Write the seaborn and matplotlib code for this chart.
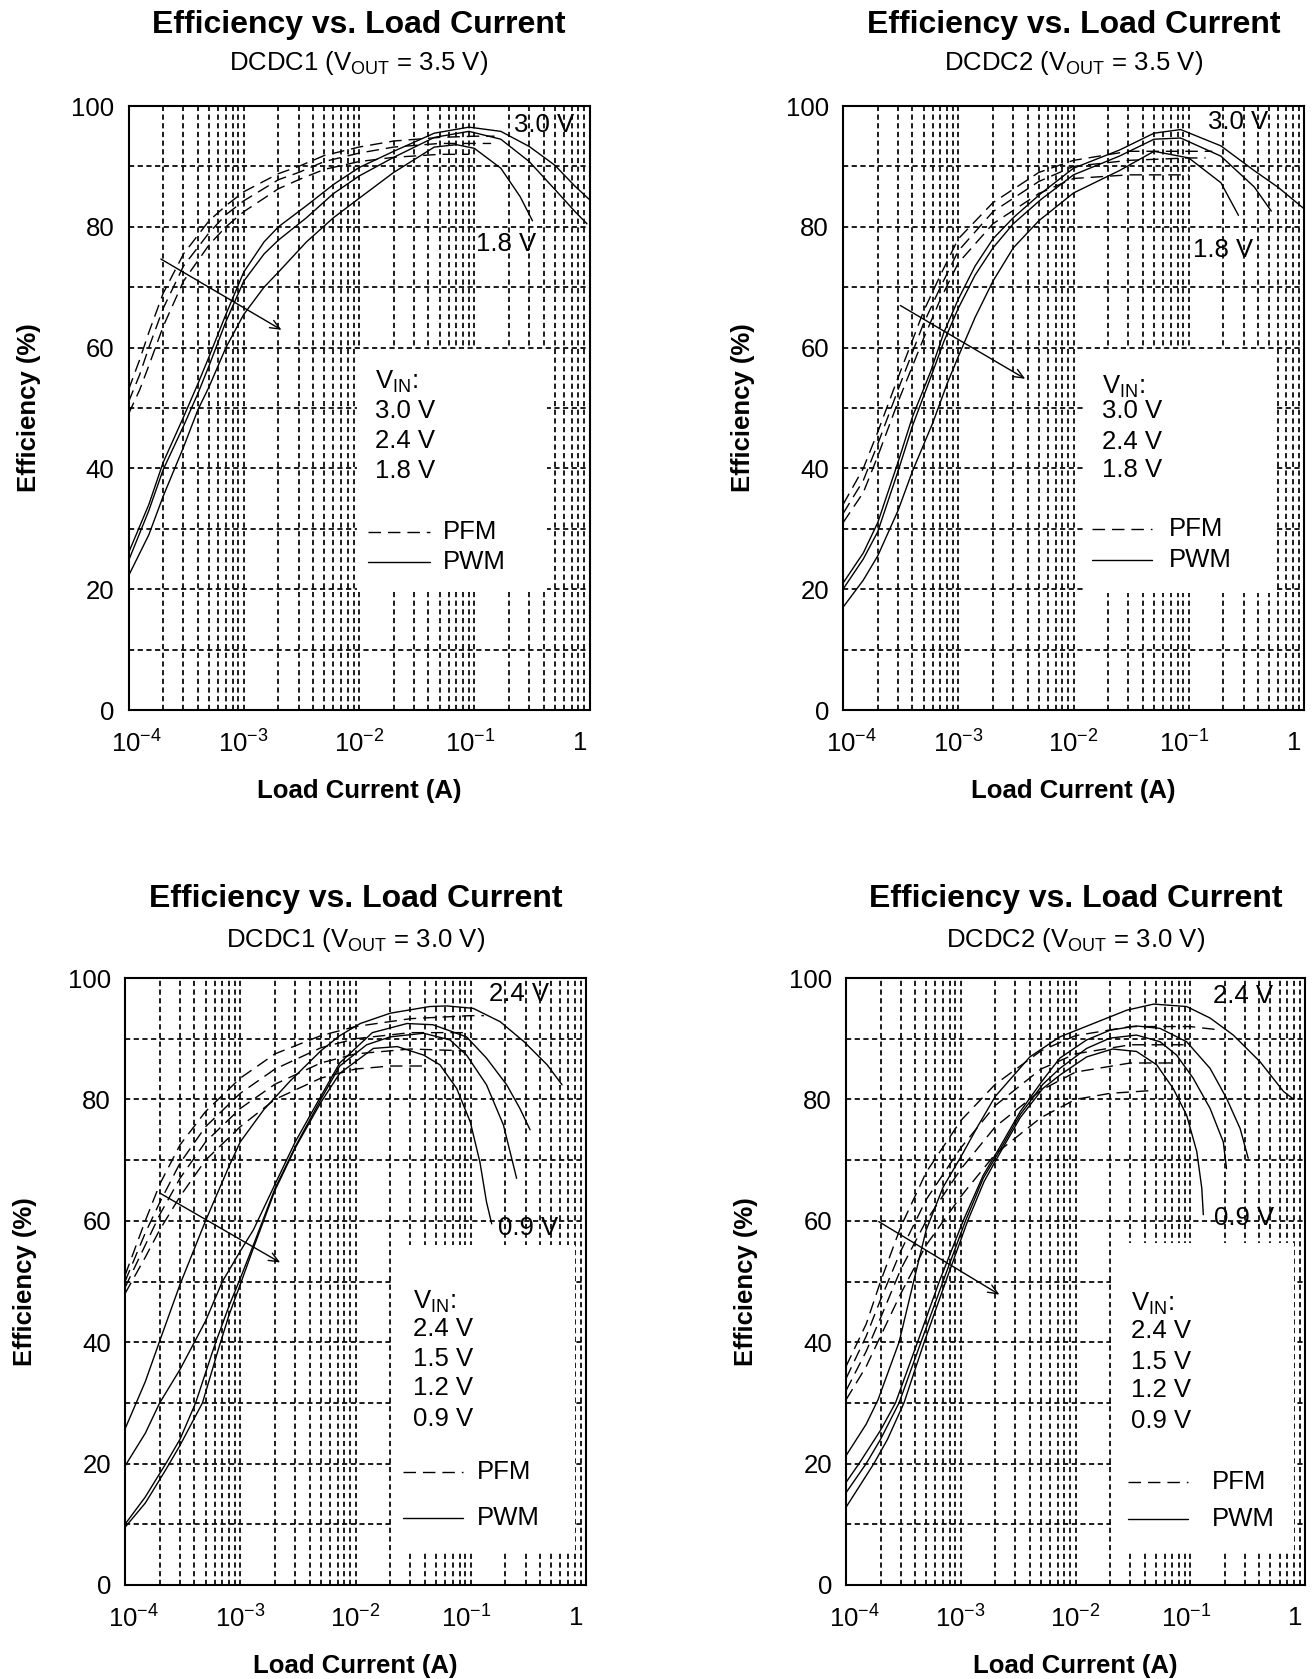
#!/usr/bin/env python
# encoding: utf-8
"""
Efficiency vs load current, DCDC1 / DCDC2 at two output voltages
"""

import numpy as np
import pandas as pd
import matplotlib
matplotlib.use("Agg")
import matplotlib.pyplot as plt
import matplotlib.transforms as mtransforms
from matplotlib.ticker import FixedLocator, LogLocator, MultipleLocator, NullFormatter
import seaborn as sns

sns.set_style("white")
plt.rcParams['font.family'] = ['Liberation Sans', 'DejaVu Sans']
plt.rcParams['mathtext.fontset'] = 'custom'
plt.rcParams['mathtext.rm'] = 'Liberation Sans'
plt.rcParams['mathtext.it'] = 'Liberation Sans:italic'
plt.rcParams['mathtext.bf'] = 'Liberation Sans:bold'
plt.rcParams['text.color'] = 'black'
plt.rcParams['axes.labelcolor'] = 'black'

# ---- data: (load current A, efficiency %) ----

# DCDC1, VOUT = 3.5 V
P1_PWM_30 = [(1e-4, 26), (1.5e-4, 34), (2e-4, 41), (3e-4, 48.5), (4e-4, 54), (5e-4, 58.5),
             (7e-4, 65.5), (1e-3, 72.5), (1.5e-3, 77.5), (2e-3, 80), (3.5e-3, 83.5), (6e-3, 87),
             (1e-2, 89.8), (2e-2, 92.5), (4.5e-2, 95.5), (9e-2, 96.5), (0.17, 95.8), (0.3, 93.3),
             (0.5, 90.2), (0.75, 86.7), (1.0, 84.5)]
P1_PWM_24 = [(1e-4, 24.7), (1.5e-4, 33), (2e-4, 39.8), (3e-4, 47), (4e-4, 52.4), (5e-4, 57),
             (7e-4, 64.3), (1e-3, 71), (1.5e-3, 75.5), (2e-3, 77.8), (3.5e-3, 81.5), (6e-3, 85.5),
             (1e-2, 88.4), (2e-2, 91.5), (4.5e-2, 94.8), (9e-2, 95.8), (0.17, 94.5), (0.3, 90.8),
             (0.5, 86.2), (0.75, 82.5), (0.95, 80.5)]
P1_PWM_18 = [(1e-4, 22.2), (1.5e-4, 29), (2e-4, 35.4), (3e-4, 43.5), (4e-4, 49.7), (5e-4, 53.5),
             (7e-4, 60), (1e-3, 65.5), (1.5e-3, 70), (2e-3, 72.5), (3.5e-3, 77.5), (6e-3, 81.5),
             (1e-2, 84.7), (2e-2, 89), (4.5e-2, 93.2), (7e-2, 93.6), (0.1, 93), (0.17, 89.7),
             (0.25, 85), (0.32, 81)]
P1_PFM_30 = [(1e-4, 53), (1.25e-4, 58), (1.5e-4, 62.5), (2e-4, 69), (3e-4, 75.5), (5e-4, 81),
             (7e-4, 83.5), (1e-3, 85.8), (2e-3, 88.8), (3e-3, 90), (5e-3, 91.8), (1e-2, 93.2),
             (2e-2, 94.2), (5e-2, 94.8), (0.1, 95), (0.15, 95)]
P1_PFM_24 = [(1e-4, 51), (1.25e-4, 55.5), (1.5e-4, 60), (2e-4, 66.5), (3e-4, 73.5), (5e-4, 79),
             (7e-4, 82), (1e-3, 84.3), (2e-3, 87.8), (3e-3, 89), (5e-3, 90.8), (1e-2, 92.2),
             (2e-2, 93.2), (5e-2, 93.8), (0.1, 93.8), (0.14, 93.8)]
P1_PFM_18 = [(1e-4, 49), (1.25e-4, 53), (1.5e-4, 57), (2e-4, 63.5), (3e-4, 71), (5e-4, 77),
             (7e-4, 80), (1e-3, 82.5), (2e-3, 86.3), (3e-3, 87.8), (5e-3, 89.5), (1e-2, 90.8),
             (2e-2, 91.5), (5e-2, 92), (0.09, 92)]

# DCDC2, VOUT = 3.5 V
P2_PWM_30 = [(1e-4, 21), (1.5e-4, 26), (2e-4, 31), (3e-4, 41), (4e-4, 48.5), (5.75e-4, 56),
             (7.5e-4, 62.5), (1e-3, 68), (1.4e-3, 73.5), (2e-3, 78), (3e-3, 81.5), (5.2e-3, 85.5),
             (1e-2, 89.7), (2.5e-2, 92.7), (5e-2, 95.5), (8.5e-2, 96.1), (0.19, 93.4),
             (0.37, 89.3), (0.6, 86.5), (1.0, 83)]
P2_PWM_24 = [(1e-4, 20), (1.5e-4, 25), (2e-4, 29.5), (3e-4, 39.5), (4e-4, 47), (5.75e-4, 55),
             (7.5e-4, 61), (1e-3, 66.5), (1.4e-3, 72), (2e-3, 76.5), (3e-3, 80.5), (5.2e-3, 84.5),
             (1e-2, 88.6), (2.5e-2, 91.7), (5e-2, 94.5), (8.5e-2, 94.7), (0.19, 91.7),
             (0.37, 86.6), (0.52, 82.6)]
P2_PWM_18 = [(1e-4, 17), (1.5e-4, 21.5), (2e-4, 25.5), (3e-4, 33), (4e-4, 39.5), (6e-4, 47.5),
             (8e-4, 54), (1e-3, 58.5), (1.4e-3, 65), (2e-3, 71), (3e-3, 76.5), (5e-3, 81),
             (1e-2, 85.6), (2.5e-2, 89.3), (5e-2, 92.5), (0.1, 91.4), (0.19, 87.3), (0.27, 81.9)]
P2_PFM_30 = [(1e-4, 34), (1.5e-4, 40), (2e-4, 46), (3e-4, 55), (5e-4, 66), (7e-4, 72),
             (1e-3, 78), (2e-3, 84), (5e-3, 89), (1e-2, 91), (3e-2, 92.5), (0.1, 92.5), (0.16, 92.5)]
P2_PFM_24 = [(1e-4, 32.5), (1.5e-4, 38), (2e-4, 44), (3e-4, 53), (5e-4, 64), (7e-4, 70),
             (1e-3, 76), (2e-3, 82.5), (5e-3, 87.5), (1e-2, 90), (3e-2, 91), (0.1, 91.4), (0.14, 91.4)]
P2_PFM_18 = [(1e-4, 31), (1.5e-4, 36), (2e-4, 42), (3e-4, 51), (5e-4, 61.5), (7e-4, 68),
             (1e-3, 74), (2e-3, 80.5), (5e-3, 85.5), (1e-2, 88), (3e-2, 88.6), (0.1, 88.6)]

# DCDC1, VOUT = 3.0 V
P3_PWM_24 = [(1e-4, 25.7), (1.5e-4, 33.5), (2e-4, 40.2), (3e-4, 49.5), (5e-4, 60), (8e-4, 69),
             (1e-3, 73), (1.6e-3, 78.3), (2.7e-3, 83), (5e-3, 88), (7.3e-3, 90.5), (1.1e-2, 92.5),
             (2e-2, 94.2), (4.4e-2, 95.3), (6.2e-2, 95.4), (0.105, 95), (0.18, 92.8), (0.29, 89.5),
             (0.46, 85.7), (0.62, 82.4)]
P3_PWM_15 = [(1e-4, 19.6), (1.5e-4, 25), (2e-4, 30), (3e-4, 35.5), (4e-4, 40), (5e-4, 43.5),
             (7e-4, 50), (1e-3, 55), (1.3e-3, 58.5), (2e-3, 66), (3e-3, 73), (5e-3, 80.5),
             (7.3e-3, 86), (1.4e-2, 91), (2.8e-2, 92.5), (4.7e-2, 92.3), (9.2e-2, 90.3),
             (0.137, 86.8), (0.205, 82.4), (0.267, 78.5), (0.327, 75)]
P3_PWM_12 = [(1e-4, 10), (1.5e-4, 14.5), (2.26e-4, 20), (3e-4, 24), (4.1e-4, 30), (6e-4, 39.5),
             (8e-4, 46), (1e-3, 50.5), (1.3e-3, 56), (2e-3, 65.3), (3e-3, 72.2), (5e-3, 80),
             (7.3e-3, 85.5), (1.25e-2, 89), (2e-2, 90.3), (3.9e-2, 90.9), (6.6e-2, 89.8),
             (9.2e-2, 87.3), (0.137, 82.4), (0.192, 75.8), (0.25, 67)]
P3_PWM_09 = [(1e-4, 9.5), (1.5e-4, 13.5), (2.26e-4, 19), (3e-4, 23), (4.7e-4, 30), (6.5e-4, 39),
             (8e-4, 44.5), (1e-3, 49.5), (1.3e-3, 55.5), (2e-3, 65), (3e-3, 72), (5e-3, 79.5),
             (7.3e-3, 84.3), (1.43e-2, 88.4), (2.3e-2, 88.7), (3.9e-2, 87.3), (5.4e-2, 85.7),
             (7.55e-2, 81.8), (9.9e-2, 76.3), (0.12, 69.7), (0.137, 63.1), (0.152, 59.5)]
P3_PFM_24 = [(1e-4, 51), (1.5e-4, 60), (2e-4, 66), (3e-4, 72.5), (5e-4, 78), (1e-3, 83.5),
             (2e-3, 87.5), (5e-3, 90.5), (1e-2, 92), (3e-2, 93.3), (0.1, 93.8), (0.13, 93.8)]
P3_PFM_15 = [(1e-4, 50), (1.5e-4, 58), (2e-4, 63), (3e-4, 69.5), (5e-4, 75.5), (1e-3, 81),
             (2e-3, 85), (5e-3, 88.5), (1e-2, 90), (3e-2, 91), (0.1, 91)]
P3_PFM_12 = [(1e-4, 49), (1.5e-4, 56), (2e-4, 61), (3e-4, 67), (5e-4, 73), (1e-3, 78.5),
             (2e-3, 82.5), (5e-3, 86), (1e-2, 87.5), (3e-2, 88.3), (0.09, 88)]
P3_PFM_09 = [(1e-4, 48), (1.5e-4, 54), (2e-4, 58.5), (3e-4, 64), (5e-4, 70), (1e-3, 75.5),
             (2e-3, 80), (5e-3, 83.5), (1e-2, 85), (2e-2, 85.5), (0.04, 85.5)]

# DCDC2, VOUT = 3.0 V
P4_PWM_24 = [(1e-4, 21.3), (1.5e-4, 26.5), (1.9e-4, 30.5), (2.9e-4, 40), (4e-4, 51), (5e-4, 58.5),
             (7e-4, 65.5), (1e-3, 70.5), (1.4e-3, 75.5), (2e-3, 80.5), (4e-3, 87), (7.3e-3, 90.3),
             (1.43e-2, 92.5), (2.8e-2, 94.7), (4.8e-2, 95.7), (9.3e-2, 95.3), (0.149, 93.4),
             (0.237, 90.6), (0.406, 86.2), (0.65, 81.3), (0.8, 80)]
P4_PWM_15 = [(1e-4, 16.9), (1.3e-4, 20), (2e-4, 25.5), (2.7e-4, 30), (4.2e-4, 40), (6.5e-4, 50),
             (1.05e-3, 60), (1.57e-3, 67.5), (2.2e-3, 72.2), (3.3e-3, 78), (5.2e-3, 83.2),
             (7.3e-3, 86.8), (1.25e-2, 89.8), (2e-2, 91.4), (3.4e-2, 92.1), (5.45e-2, 91.7),
             (9.3e-2, 89.5), (0.149, 85.1), (0.207, 80.2), (0.272, 75.2), (0.32, 70.3)]
P4_PWM_12 = [(1e-4, 15.2), (1.5e-4, 20), (2e-4, 24), (2.9e-4, 30), (4.5e-4, 40), (7e-4, 50),
             (1.1e-3, 60), (1.57e-3, 67), (2.2e-3, 71.7), (3.3e-3, 77.5), (5.2e-3, 82.5),
             (7.3e-3, 85.1), (1.25e-2, 88.4), (2e-2, 90.1), (3.4e-2, 90.6), (5.45e-2, 89.5),
             (7.6e-2, 87.3), (0.106, 83.5), (0.149, 78.5), (0.194, 73), (0.207, 68.6)]
P4_PWM_09 = [(1e-4, 12.8), (1.75e-4, 20), (2.3e-4, 24), (3.2e-4, 30), (4.8e-4, 40), (7.4e-4, 50),
             (1.15e-3, 60), (1.6e-3, 66.5), (2.2e-3, 71.2), (3.3e-3, 77), (5.2e-3, 81.8),
             (7.3e-3, 84), (1.25e-2, 87), (2.1e-2, 88.3), (3.4e-2, 87.9), (5.1e-2, 85.7),
             (7.1e-2, 81.8), (9.3e-2, 77.4), (0.114, 71.4), (0.126, 65.4), (0.13, 61)]
P4_PFM_24 = [(1e-4, 36), (1.5e-4, 43), (2e-4, 50), (3e-4, 59), (5e-4, 68), (1e-3, 76.5),
             (2e-3, 82.5), (5e-3, 88), (1e-2, 90.5), (3e-2, 92), (0.1, 92), (0.17, 91.5)]
P4_PFM_15 = [(1e-4, 34), (1.5e-4, 41), (2e-4, 47), (3e-4, 55), (5e-4, 63.5), (1e-3, 72),
             (2e-3, 79), (5e-3, 85), (1e-2, 87.5), (3e-2, 89), (0.1, 89)]
P4_PFM_12 = [(1e-4, 32), (1.5e-4, 38.5), (2e-4, 44), (3e-4, 52), (5e-4, 60), (1e-3, 68.5),
             (2e-3, 75.5), (5e-3, 81.5), (1e-2, 84.5), (3e-2, 86), (0.07, 86)]
P4_PFM_09 = [(1e-4, 30.5), (1.5e-4, 36), (2e-4, 41), (3e-4, 48), (5e-4, 56), (1e-3, 64),
             (2e-3, 71), (5e-3, 77), (1e-2, 80), (2e-2, 81), (0.05, 81.5)]

VIN_HI = ['3.0 V', '2.4 V', '1.8 V']
VIN_LO = ['2.4 V', '1.5 V', '1.2 V', '0.9 V']
XTICKS = [1e-4, 1e-3, 1e-2, 1e-1, 1]
XTICK_LABELS = [r'$\mathdefault{10^{-4}}$', r'$\mathdefault{10^{-3}}$',
                r'$\mathdefault{10^{-2}}$', r'$\mathdefault{10^{-1}}$', '1']
TITLE = "Efficiency vs. Load Current"
SUBTITLES = [r"DCDC1 (V$_{\mathdefault{OUT}}$ = 3.5 V)", r"DCDC2 (V$_{\mathdefault{OUT}}$ = 3.5 V)",
             r"DCDC1 (V$_{\mathdefault{OUT}}$ = 3.0 V)", r"DCDC2 (V$_{\mathdefault{OUT}}$ = 3.0 V)"]

W, H = 1313, 1679
GRID_LS = (0, (3, 2))
PFM_DASH = (9, 5)
# end tick labels sit a little inside the frame in the original (points)
XLABEL_SHIFT = [6, 0, 0, -3, -7]


def curve_frame(vins, pwm, pfm):
    rows = []
    for vin, pts in zip(vins, pwm):
        rows += [(i, e, vin, 'PWM') for i, e in pts]
    for vin, pts in zip(vins, pfm):
        rows += [(i, e, vin, 'PFM') for i, e in pts]
    return pd.DataFrame(rows, columns=['I', 'eff', 'vin', 'mode'])


def axes_px(left, top, right, bottom):
    return [left / W, 1 - bottom / H, (right - left) / W, (bottom - top) / H]


def draw_panel(fig, rect, df, vins, subtitle, title_y, box, arrow, hi_lab, lo_lab, leg):
    ax = fig.add_axes(axes_px(*rect))
    ax.set_xscale('log')
    ax.set_xlim(1e-4, 1)
    ax.set_ylim(0, 100)

    # white patch behind the legend text (grid removed there)
    ax.fill_between([box[0], box[1]], box[2], box[3], color='white', lw=0, zorder=1.2)

    sns.lineplot(data=df, x='I', y='eff', hue='vin', style='mode', units='vin',
                 estimator=None, palette={v: 'black' for v in vins},
                 dashes={'PFM': PFM_DASH, 'PWM': ''}, linewidth=1.0, legend=False, ax=ax,
                 zorder=2)

    ax.xaxis.set_major_locator(FixedLocator(XTICKS))
    ax.xaxis.set_minor_locator(LogLocator(base=10, subs=np.arange(2, 10), numticks=50))
    ax.xaxis.set_minor_formatter(NullFormatter())
    ax.set_xticklabels(XTICK_LABELS)
    ax.yaxis.set_major_locator(MultipleLocator(20))
    ax.yaxis.set_minor_locator(MultipleLocator(10))
    ax.set_axisbelow(True)
    ax.grid(True, which='both', color='black', linestyle=GRID_LS, linewidth=1.25)
    ax.tick_params(which='both', length=0, labelsize=18.5, colors='black')
    ax.tick_params(axis='x', pad=15)
    ax.tick_params(axis='y', pad=10)
    for s in ax.spines.values():
        s.set_linewidth(1.5)
        s.set_color('black')
    for tick, dx in zip(ax.xaxis.get_major_ticks(), XLABEL_SHIFT):
        lab = tick.label1
        lab.set_transform(lab.get_transform() +
                          mtransforms.ScaledTranslation(dx / 72, 0, fig.dpi_scale_trans))

    ax.set_xlabel("Load Current (A)", fontsize=18.5, fontweight='bold', labelpad=15)
    ax.set_ylabel("Efficiency (%)", fontsize=18.5, fontweight='bold', labelpad=22)

    cx = (rect[0] + rect[2]) / 2 / W
    fig.text(cx, 1 - title_y[0] / H, TITLE, ha='center', va='center',
             fontsize=23, fontweight='bold')
    fig.text(cx, 1 - title_y[1] / H, subtitle, ha='center', va='center', fontsize=18.5)

    ax.annotate('', xy=arrow[1], xytext=arrow[0],
                arrowprops=dict(arrowstyle='->,head_length=0.7,head_width=0.3',
                                color='black', lw=1.0), zorder=3)
    ax.text(hi_lab[0], hi_lab[1], hi_lab[2], ha='center', va='center', fontsize=18.5, zorder=3)
    ax.text(lo_lab[0], lo_lab[1], lo_lab[2], ha='center', va='center', fontsize=18.5, zorder=3)

    tx, ys, dash_x, mode_x, mode_y = leg
    ax.text(tx, ys[0], r'V$_{\mathdefault{IN}}$:', transform=ax.transAxes,
            ha='left', va='center', fontsize=18.5, zorder=3)
    for v, y in zip(vins, ys[1:]):
        ax.text(tx, y, v, transform=ax.transAxes, ha='left', va='center',
                fontsize=18.5, zorder=3)
    ax.plot(dash_x, [mode_y[0]] * 2, transform=ax.transAxes, color='black', lw=1.0,
            dashes=PFM_DASH, zorder=3)
    ax.plot(dash_x, [mode_y[1]] * 2, transform=ax.transAxes, color='black', lw=1.0, zorder=3)
    ax.text(mode_x, mode_y[0], 'PFM', transform=ax.transAxes, ha='left', va='center',
            fontsize=18.5, zorder=3)
    ax.text(mode_x, mode_y[1], 'PWM', transform=ax.transAxes, ha='left', va='center',
            fontsize=18.5, zorder=3)
    return ax


fig = plt.figure(figsize=(W / 100, H / 100), dpi=100)

draw_panel(fig, (128.5, 106, 589.5, 710),
           curve_frame(VIN_HI, [P1_PWM_30, P1_PWM_24, P1_PWM_18],
                       [P1_PFM_30, P1_PFM_24, P1_PFM_18]),
           VIN_HI, SUBTITLES[0], (24.5, 63),
           (0.0097, 0.43, 19.5, 59.7),
           ((1.82e-4, 74.9), (2.23e-3, 62.7)),
           (0.406, 96.8, '3.0 V'), (0.188, 77.2, '1.8 V'),
           (0.535, [0.543, 0.495, 0.445, 0.395], [0.52, 0.655], 0.682, [0.295, 0.245]))

draw_panel(fig, (843, 106, 1304, 710),
           curve_frame(VIN_HI, [P2_PWM_30, P2_PWM_24, P2_PWM_18],
                       [P2_PFM_30, P2_PFM_24, P2_PFM_18]),
           VIN_HI, SUBTITLES[1], (24.5, 63),
           (0.0125, 0.565, 19.4, 59.7),
           ((3.0e-4, 67.2), (4.0e-3, 54.6)),
           (0.267, 97.4, '3.0 V'), (0.2, 76.1, '1.8 V'),
           (0.561, [0.535, 0.495, 0.444, 0.397], [0.54, 0.67], 0.706, [0.299, 0.248]))

draw_panel(fig, (125, 978, 586, 1585),
           curve_frame(VIN_LO, [P3_PWM_24, P3_PWM_15, P3_PWM_12, P3_PWM_09],
                       [P3_PFM_24, P3_PFM_15, P3_PFM_12, P3_PFM_09]),
           VIN_LO, SUBTITLES[2], (898.5, 940),
           (0.0205, 0.795, 5.4, 56),
           ((1.91e-4, 64.8), (2.33e-3, 52.9)),
           (0.263, 97.3, '2.4 V'), (0.315, 58.8, '0.9 V'),
           (0.625, [0.466, 0.422, 0.372, 0.324, 0.274], [0.604, 0.734], 0.763, [0.186, 0.111]))

draw_panel(fig, (846, 978, 1305, 1585),
           curve_frame(VIN_LO, [P4_PWM_24, P4_PWM_15, P4_PWM_12, P4_PWM_09],
                       [P4_PFM_24, P4_PFM_15, P4_PFM_12, P4_PFM_09]),
           VIN_LO, SUBTITLES[3], (898.5, 940),
           (0.0205, 0.795, 5.4, 56.4),
           ((1.84e-4, 60.1), (2.28e-3, 47.6)),
           (0.29, 97.0, '2.4 V'), (0.294, 60.5, '0.9 V'),
           (0.622, [0.463, 0.419, 0.368, 0.321, 0.27], [0.615, 0.746], 0.797, [0.169, 0.108]))

fig.savefig("out.png", dpi=100)
